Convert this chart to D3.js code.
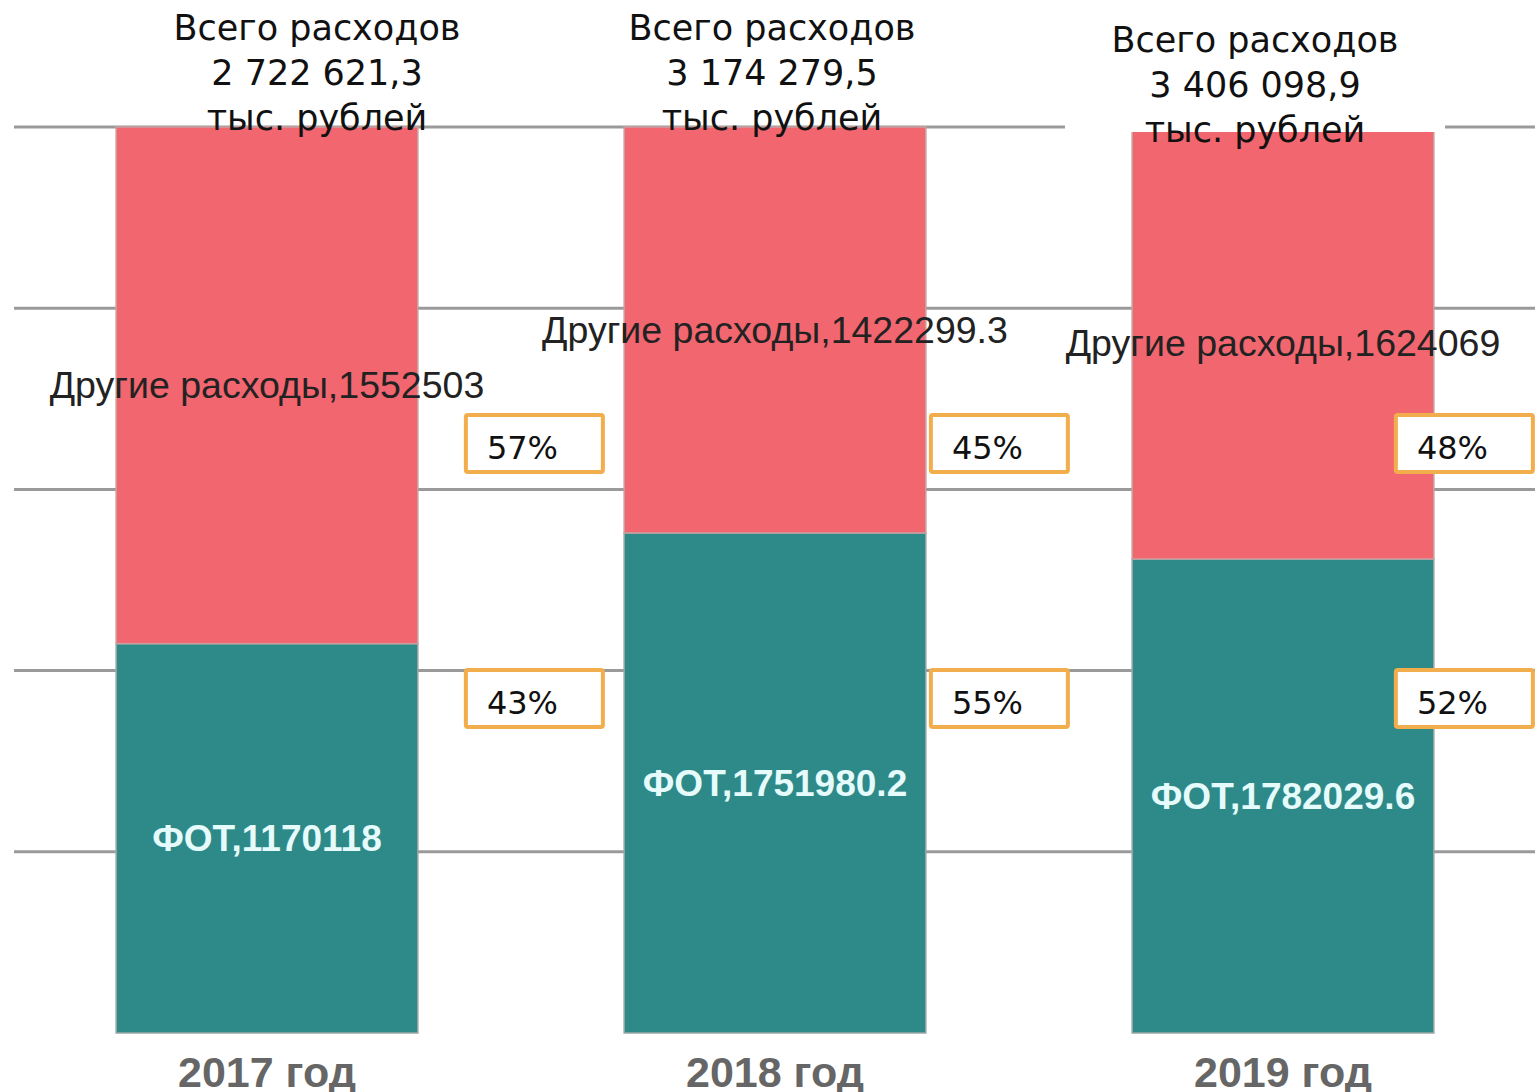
<!DOCTYPE html>
<html><head><meta charset="utf-8">
<script src="https://cdn.jsdelivr.net/npm/d3@7"></script>
<style>
body{margin:0;background:#fff;overflow:hidden}
svg{display:block}
</style></head>
<body>
<svg id="c" width="1535" height="1092"></svg>
<script>
const years = ["2017 год", "2018 год", "2019 год"];
const fot = [1170118, 1751980.2, 1782029.6];
const other = [1552503, 1422299.3, 1624069];
const fotLabels = ["ФОТ,1170118", "ФОТ,1751980.2", "ФОТ,1782029.6"];
const otherLabels = ["Другие расходы,1552503", "Другие расходы,1422299.3", "Другие расходы,1624069"];
const totalLines = [["Всего расходов","2 722 621,3","тыс. рублей"],["Всего расходов","3 174 279,5","тыс. рублей"],["Всего расходов","3 406 098,9","тыс. рублей"]];
const pctOther = ["57%", "45%", "48%"];
const pctFot = ["43%", "55%", "52%"];
const yTicks = [0.2, 0.4, 0.6, 0.8, 1.0];

const svg = d3.select("#c");
const x = d3.scaleBand().domain(years).range([13, 1537]).paddingInner(0.406).paddingOuter(0.203);
const y = d3.scaleLinear().domain([0, 1]).range([1033, 127]);

const data = years.map((yr, i) => {
  const t = fot[i] + other[i];
  return {yr, i, f: fot[i] / t, o: other[i] / t};
});

// gridlines
svg.append("g").selectAll("line").data(yTicks).join("line")
  .attr("x1", 14).attr("x2", 1535)
  .attr("y1", d => y(d)).attr("y2", d => y(d))
  .attr("stroke", "#9a9a9a").attr("stroke-width", 3);

const red = "#f2666f", teal = "#2e8a89";
const g = svg.append("g");
g.selectAll("rect.f").data(data).join("rect").attr("class","f")
  .attr("x", d => x(d.yr)).attr("width", x.bandwidth())
  .attr("y", d => y(d.f)).attr("height", d => y(0) - y(d.f))
  .attr("fill", teal).attr("stroke", "#9aa8a8").attr("stroke-width", 1.5);
g.selectAll("rect.o").data(data).join("rect").attr("class","o")
  .attr("x", d => x(d.yr)).attr("width", x.bandwidth())
  .attr("y", d => y(1)).attr("height", d => y(d.f) - y(1))
  .attr("fill", red).attr("stroke", "#c8a0a2").attr("stroke-width", 1.5);

g.selectAll("text.ol").data(data).join("text").attr("class","ol")
  .attr("x", d => x(d.yr) + x.bandwidth()/2)
  .attr("y", d => (y(1) + y(d.f))/2 + 13)
  .attr("text-anchor","middle")
  .attr("font-family","Liberation Sans, Arial, sans-serif").attr("font-size", 37.5)
  .attr("fill","#222").text(d => otherLabels[d.i]);
g.selectAll("text.fl").data(data).join("text").attr("class","fl")
  .attr("x", d => x(d.yr) + x.bandwidth()/2)
  .attr("y", d => (y(d.f) + y(0))/2 + 13)
  .attr("text-anchor","middle")
  .attr("font-family","Liberation Sans, Arial, sans-serif").attr("font-size", 37).attr("font-weight","bold")
  .attr("fill","#e6fbfb").text(d => fotLabels[d.i]);

g.selectAll("text.yr").data(data).join("text").attr("class","yr")
  .attr("x", d => x(d.yr) + x.bandwidth()/2)
  .attr("y", 1087)
  .attr("text-anchor","middle")
  .attr("font-family","Liberation Sans, Arial, sans-serif").attr("font-size", 43).attr("font-weight","bold")
  .attr("fill","#666").text(d => d.yr);

const titleDx = [50, -3, -28];
const titleY = [40, 40, 52];
svg.append("rect").attr("x", 1065).attr("y", 0).attr("width", 380).attr("height", 132).attr("fill", "#fff");
const tg = svg.append("g");
data.forEach(d => {
  const cx = x(d.yr) + x.bandwidth()/2 + titleDx[d.i];
  const t = tg.append("text").attr("text-anchor","middle")
    .attr("font-family","DejaVu Sans, sans-serif").attr("font-size", 35)
    .attr("fill","#111");
  totalLines[d.i].forEach((ln, k) => {
    t.append("tspan").attr("x", cx).attr("y", titleY[d.i] + k*45).text(ln);
  });
});

const boxDx = [48, 5, -38];
const pg = svg.append("g");
data.forEach(d => {
  const bx = x(d.yr) + x.bandwidth() + boxDx[d.i];
  [[415, pctOther[d.i]], [670, pctFot[d.i]]].forEach(([by, txt]) => {
    pg.append("rect").attr("x", bx).attr("y", by).attr("width", 137).attr("height", 57)
      .attr("rx", 2).attr("fill", "#fff").attr("stroke", "#f2ae4c").attr("stroke-width", 4);
    pg.append("text").attr("x", bx + 21).attr("y", by + 44)
      .attr("font-family","DejaVu Sans, sans-serif").attr("font-size", 32)
      .attr("fill","#111").text(txt);
  });
});
</script>
</body></html>
